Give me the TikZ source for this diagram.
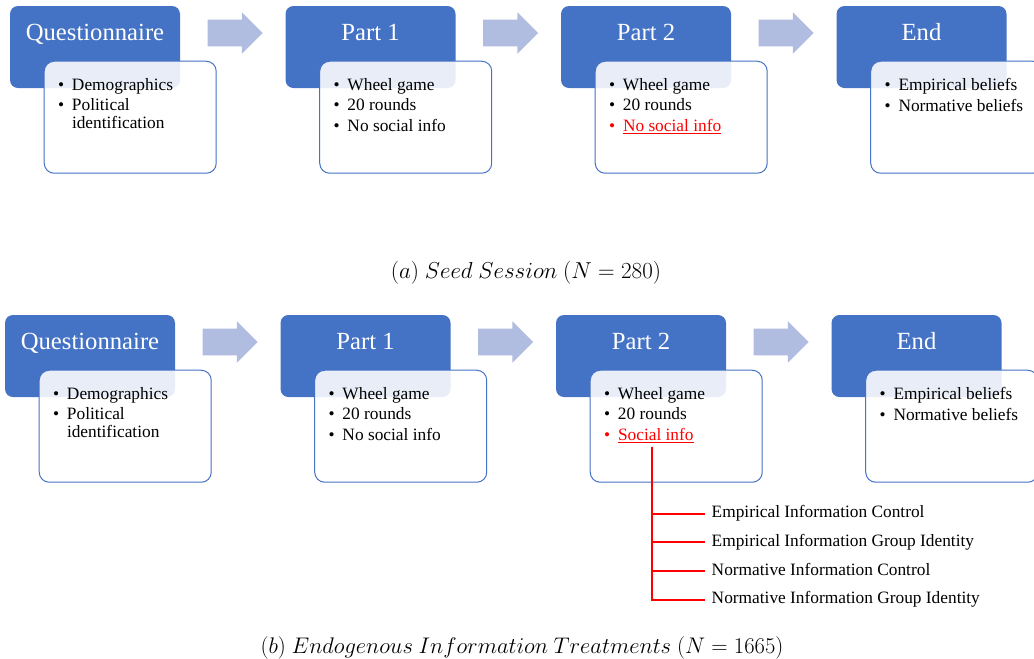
\documentclass[tikz,border=0pt]{standalone}
\usepackage[no-math]{fontspec}
\setmainfont{Liberation Serif}
\usepackage{tikz}
\usetikzlibrary{shapes.arrows}
\definecolor{stageblue}{HTML}{4472C4}
\definecolor{arrowblue}{RGB}{176,188,224}
\definecolor{infored}{RGB}{255,0,0}
\tikzset{
  stage/.style={rectangle, rounded corners=6pt, fill=stageblue, inner sep=0,
    minimum width=127.5pt, minimum height=61.5pt},
  ttl/.style={anchor=base, inner sep=0, text=white, font=\fontsize{18.5}{20}\selectfont},
  detail/.style={rectangle, rounded corners=7.5pt, draw=stageblue, line width=0.75pt,
    fill=white, fill opacity=0.88, anchor=north west, inner sep=0,
    minimum width=129pt, minimum height=84pt},
  lst/.style={anchor=base west, inner sep=0, font=\fontsize{13}{12.75}\selectfont},
  blk/.style={single arrow, fill=arrowblue, anchor=west, inner xsep=0, inner ysep=9.75pt,
    minimum height=41.25pt, single arrow head extend=5.6pt},
  tree/.style={line width=1.5pt, infored},
  trt/.style={anchor=west, inner xsep=0, outer xsep=5.25pt, inner ysep=0,
    text height=9pt, text depth=3pt, font=\fontsize{13}{15}\selectfont},
  capt/.style={inner sep=0, font=\fontsize{17.28}{19}\selectfont},
}
\newcommand{\bl}{\textbullet}
\newcommand{\redbl}{\textcolor{infored}{\textbullet}}

\begin{document}
\begin{tikzpicture}[x=0.75pt,y=-0.75pt]
  \useasboundingbox (0,0) rectangle (1034,658);
  \foreach \r/\dx/\dy/\info in {a/0/0/No social info, b/-5/309/Social info}{
    \begin{scope}[shift={(\dx,\dy)}, name prefix=\r-]
      % stage boxes and titles
      \foreach \s/\t [count=\k] in {q/Questionnaire, p1/Part 1, p2/Part 2, e/End}{
        \node[stage] (\s) at ({95+275.5*(\k-1)},47) {};
        \node[ttl] (\s-t) at ([shift={(0,35)}]\s.north) {\t};
      }
      % arrows between stages
      \foreach \s in {q,p1,p2}
        \node[blk] (\s-arr) at ([shift={(27,-14)}]\s.east) {};
      % detail boxes
      \foreach \s in {q,p1,p2,e}
        \node[detail] (\s-w) at ([shift={(34,55)}]\s.north west) {};
      \node[lst] (q-l) at ([shift={(14,30)}]q-w.north west)
        {\begin{tabular}[t]{@{}p{10.5pt}@{}l@{}}
          \bl & Demographics\\[2.25pt]
          \bl & Political\\
              & identification
        \end{tabular}};
      \node[lst] (p1-l) at ([shift={(14,30)}]p1-w.north west)
        {\begin{tabular}[t]{@{}p{10.5pt}@{}l@{}}
          \bl & Wheel game\\[2.25pt]
          \bl & 20 rounds\\[2.25pt]
          \bl & No social info
        \end{tabular}};
      \node[lst] (p2-l) at ([shift={(14,30)}]p2-w.north west)
        {\begin{tabular}[t]{@{}p{10.5pt}@{}l@{}}
          \bl & Wheel game\\[2.25pt]
          \bl & 20 rounds\\[2.25pt]
          \redbl & \textcolor{infored}{\underline{\info}}
        \end{tabular}};
      \node[lst] (e-l) at ([shift={(14,30)}]e-w.north west)
        {\begin{tabular}[t]{@{}p{10.5pt}@{}l@{}}
          \bl & Empirical beliefs\\[2.25pt]
          \bl & Normative beliefs
        \end{tabular}};
    \end{scope}
  }
  % treatments branching off social info
  \coordinate (soc) at ([shift={(62,77)}]b-p2-w.north west);
  \foreach \lab [count=\i] in {Empirical Information Control,
      Empirical Information Group Identity, Normative Information Control,
      Normative Information Group Identity}{
    \node[trt] (t\i) at ([shift={(53,{67+28.7*(\i-1)})}]soc) {\lab};
    \draw[tree] (soc) |- (t\i.west);
  }
  % captions
  \node[capt] (capa) at (526,273) {$(a)\ Seed\ Session\ (N=280)$};
  \node[capt] (capb) at (522,648)
    {\scalebox{0.98}{$(b)\ Endogenous\ Information\ Treatments\ (N=1665)$}};
\end{tikzpicture}
\end{document}
